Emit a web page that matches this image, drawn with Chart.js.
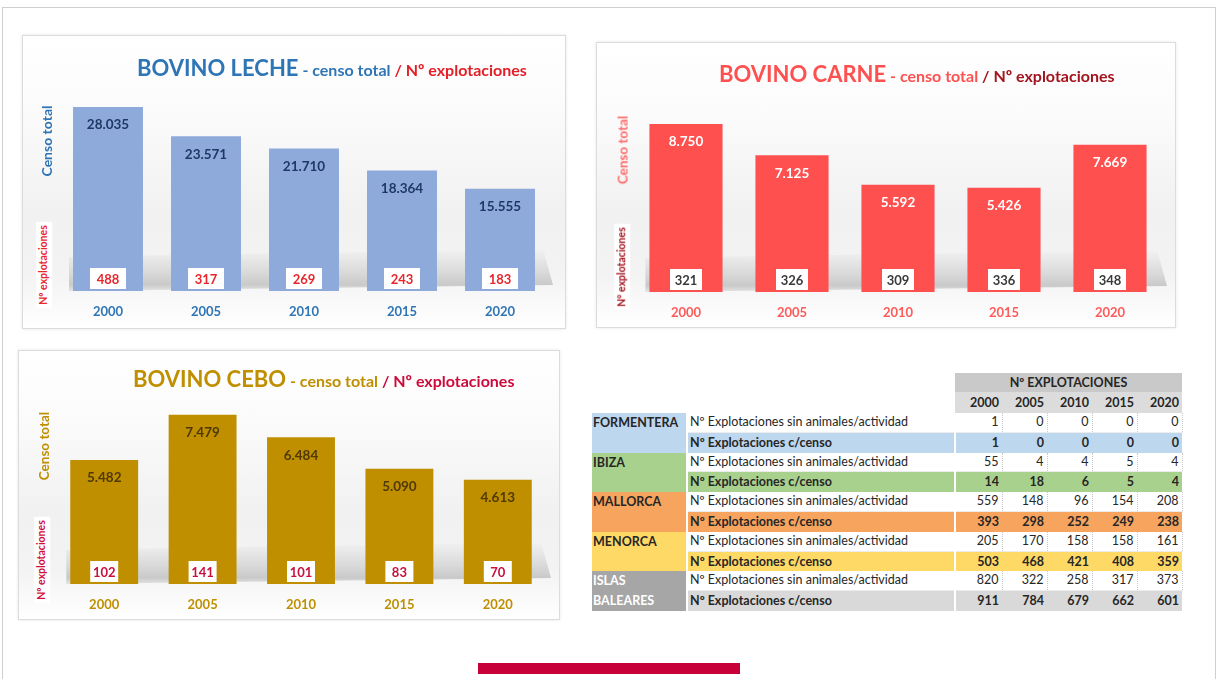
<!DOCTYPE html>
<html lang="es">
<head>
<meta charset="utf-8">
<script src="https://cdn.jsdelivr.net/npm/chart.js@4.4.1/dist/chart.umd.min.js"></script>
<style>
  html,body{margin:0;padding:0;background:#fff;}
  body{width:1218px;height:679px;position:relative;overflow:hidden;font-family:Lato,"Open Sans",sans-serif;}
  .frame{position:absolute;left:2px;top:7px;width:1214px;height:700px;border:1px solid #cfcfcf;box-sizing:border-box;}
  .panel{position:absolute;border:1px solid #dcdcdc;box-shadow:0 0 3px rgba(0,0,0,0.10);box-sizing:border-box;
    background:linear-gradient(to bottom,#ffffff 0%,#fbfbfb 25%,#f1f1f1 60%,#f3f3f3 82%,#ffffff 100%);}
  .cv{position:absolute;}
  .title{position:absolute;white-space:nowrap;font-weight:700;line-height:1;}
  .title .big{font-size:22px;}
  .title .sm{font-size:16px;}
  .rot{position:absolute;white-space:nowrap;font-weight:700;transform:translate(-50%,-50%) rotate(-90deg);line-height:1.1;}
  .rot.expl{background:#fff;padding:2px 3px;font-size:10.5px;}
  .bar{position:absolute;left:478px;top:663px;width:262px;height:11px;background:#c8003a;}
  table.t{position:absolute;left:592px;top:373px;border-collapse:collapse;table-layout:fixed;font-size:12.5px;color:#262626;}
  table.t td{padding:0;height:19.8px;line-height:19.8px;white-space:nowrap;overflow:hidden;}
  table.t tr.sin td{height:18.8px;line-height:18.8px;}
  table.t tr.sin td.isl{height:auto;line-height:19.8px;}
  table.t td.num{text-align:right;padding-right:3px;}
  table.t tr.sin td.num{border-right:1px dotted #c8c8c8;border-bottom:1px solid #ececec;}
  table.t tr.sin td.desc{border-bottom:1px solid #ececec;}
  table.t tr.cen td{font-weight:700;}
  table.t td.isl{font-weight:700;vertical-align:top;border-right:2px solid #fff;padding-left:1px;}
  table.t td.desc{padding-left:2px;border-right:2px solid #fff;}
  table.t tr.h1 td{height:19px;line-height:19px;}
  table.t tr.h1 td.hd{background:#c9c9c9;text-align:center;font-weight:700;}
  table.t tr.h2 td{height:21px;line-height:21px;}
  table.t tr.h2 td.yr{background:#dcdcdc;text-align:right;font-weight:700;padding-right:3px;}
</style>
</head>
<body>
<div class="frame"></div>

<div class="panel" style="left:22px;top:35px;width:544px;height:294px;"></div>
<div class="panel" style="left:596px;top:42px;width:580px;height:286px;"></div>
<div class="panel" style="left:18px;top:350px;width:542px;height:270px;"></div>

<canvas id="cLeche" class="cv" style="left:22px;top:35px;" width="544" height="294"></canvas>
<canvas id="cCarne" class="cv" style="left:596px;top:42px;" width="580" height="286"></canvas>
<canvas id="cCebo" class="cv" style="left:18px;top:350px;" width="542" height="270"></canvas>

<div class="title" style="left:137px;top:57px;color:#2e75b6;"><span class="big">BOVINO LECHE</span><span class="sm"> - censo total </span><span class="sm" style="color:#e41e26;"> / Nº explotaciones</span></div>
<div class="title" style="left:719px;top:63px;color:#ff5050;"><span class="big">BOVINO CARNE</span><span class="sm"> - censo total </span><span class="sm" style="color:#a3141e;"> / Nº explotaciones</span></div>
<div class="title" style="left:133px;top:368px;color:#bf8f00;"><span class="big">BOVINO CEBO</span><span class="sm"> - censo total </span><span class="sm" style="color:#cc0a3c;"> / Nº explotaciones</span></div>

<div class="rot" style="left:47px;top:141px;color:#2e75b6;font-size:14px;">Censo total</div>
<div class="rot expl" style="left:44px;top:265px;color:#e8262b;">Nº explotaciones</div>
<div class="rot" style="left:623px;top:150px;color:#ff6b6b;font-size:13.5px;">Censo total</div>
<div class="rot expl" style="left:622px;top:267px;color:#a3141e;">Nº explotaciones</div>
<div class="rot" style="left:44px;top:446px;color:#bf8f00;font-size:13.5px;">Censo total</div>
<div class="rot expl" style="left:42px;top:560px;color:#d0103a;">Nº explotaciones</div>

<table class="t" id="tbl"></table>
<div class="bar"></div>

<script>
// ---------- DATA ----------
const years = ['2000', '2005', '2010', '2015', '2020'];

const lecheCenso = [28035, 23571, 21710, 18364, 15555];
const lecheExpl  = [488, 317, 269, 243, 183];

const carneCenso = [8750, 7125, 5592, 5426, 7669];
const carneExpl  = [321, 326, 309, 336, 348];

const ceboCenso  = [5482, 7479, 6484, 5090, 4613];
const ceboExpl   = [102, 141, 101, 83, 70];

const islands = ['FORMENTERA', 'IBIZA', 'MALLORCA', 'MENORCA', 'ISLAS BALEARES'];
const formenteraSin = [1, 0, 0, 0, 0];
const formenteraCon = [1, 0, 0, 0, 0];
const ibizaSin      = [55, 4, 4, 5, 4];
const ibizaCon      = [14, 18, 6, 5, 4];
const mallorcaSin   = [559, 148, 96, 154, 208];
const mallorcaCon   = [393, 298, 252, 249, 238];
const menorcaSin    = [205, 170, 158, 158, 161];
const menorcaCon    = [503, 468, 421, 408, 359];
const balearesSin   = [820, 322, 258, 317, 373];
const balearesCon   = [911, 784, 679, 662, 601];

const rowSinLabel = 'Nº Explotaciones sin animales/actividad';
const rowConLabel = 'Nº Explotaciones c/censo';
const tableHeader = 'Nº EXPLOTACIONES';

// ---------- TABLE ----------
(function buildTable(){
  const styles = [
    {cell:'#bdd7ee', row:'#bdd7ee', txt:'#262626'},
    {cell:'#a9d18e', row:'#a9d18e', txt:'#262626'},
    {cell:'#f6a45e', row:'#f6a45e', txt:'#262626'},
    {cell:'#ffd966', row:'#ffd966', txt:'#262626'},
    {cell:'#a6a6a6', row:'#d9d9d9', txt:'#ffffff'}
  ];
  const sins = [formenteraSin, ibizaSin, mallorcaSin, menorcaSin, balearesSin];
  const cons = [formenteraCon, ibizaCon, mallorcaCon, menorcaCon, balearesCon];
  const widths = [95, 268, 47, 45, 45, 45, 45];
  let h = '<colgroup>' + widths.map(w => '<col style="width:' + w + 'px">').join('') + '</colgroup>';
  h += '<tr class="h1"><td></td><td></td><td class="hd" colspan="5">' + tableHeader + '</td></tr>';
  h += '<tr class="h2"><td></td><td></td>' + years.map(y => '<td class="yr">' + y + '</td>').join('') + '</tr>';
  islands.forEach((isl, i) => {
    const s = styles[i];
    const name = isl === 'ISLAS BALEARES' ? 'ISLAS<br>BALEARES' : isl;
    h += '<tr class="sin"><td class="isl" rowspan="2" style="background:' + s.cell + ';color:' + s.txt + ';">' + name + '</td>' +
         '<td class="desc">' + rowSinLabel + '</td>' +
         sins[i].map(v => '<td class="num">' + v + '</td>').join('') + '</tr>';
    h += '<tr class="cen"><td class="desc" style="background:' + s.row + ';">' + rowConLabel + '</td>' +
         cons[i].map(v => '<td class="num" style="background:' + s.row + ';">' + v + '</td>').join('') + '</tr>';
  });
  document.getElementById('tbl').innerHTML = h;
})();

// ---------- CHARTS ----------
function fmt(v){ return String(v).replace(/\B(?=(\d{3})+(?!\d))/g, '.'); }

const barDecor = {
  id: 'barDecor',
  beforeDatasetsDraw(chart){
    const {ctx, chartArea:a} = chart;
    const meta = chart.getDatasetMeta(0);
    const first = meta.data[0];
    const x0 = first.x - first.width/2 - 4;
    const x1 = a.right + 4;
    const top = a.bottom - 42;
    ctx.save();
    const g = ctx.createLinearGradient(0, top, 0, a.bottom);
    g.addColorStop(0, 'rgba(140,140,140,0)');
    g.addColorStop(0.55, 'rgba(140,140,140,0.24)');
    g.addColorStop(0.85, 'rgba(130,130,130,0.38)');
    g.addColorStop(1, 'rgba(150,150,150,0.2)');
    ctx.fillStyle = g;
    ctx.beginPath();
    ctx.moveTo(x0, top + 8);
    ctx.lineTo(x1 - 10, top);
    ctx.lineTo(x1, a.bottom - 6);
    ctx.lineTo(x0, a.bottom);
    ctx.closePath();
    ctx.fill();
    ctx.restore();
  },
  afterDatasetsDraw(chart){
    const o = chart.options.plugins.barDecor;
    const {ctx} = chart;
    const meta = chart.getDatasetMeta(0);
    const vals = chart.data.datasets[0].data;
    ctx.save();
    ctx.textAlign = 'center';
    ctx.textBaseline = 'middle';
    meta.data.forEach((bar, i) => {
      ctx.font = '700 13.5px Lato, "Open Sans", sans-serif';
      ctx.fillStyle = o.valueColor;
      ctx.fillText(fmt(vals[i]), bar.x, bar.y + 18);
      const w = o.boxW, hh = 21;
      const by = bar.base - hh - 2;
      ctx.fillStyle = '#ffffff';
      ctx.fillRect(bar.x - w/2, by, w, hh);
      ctx.font = '700 13px Lato, "Open Sans", sans-serif';
      ctx.fillStyle = o.countColor;
      ctx.fillText(String(o.counts[i]), bar.x, by + hh/2 + 1);
    });
    ctx.restore();
  }
};

function makeChart(id, censo, expl, opt){
  new Chart(document.getElementById(id), {
    type: 'bar',
    data: {
      labels: years,
      datasets: [{
        data: censo,
        backgroundColor: opt.color,
        borderWidth: 0,
        barPercentage: opt.barPct,
        categoryPercentage: 1
      }]
    },
    options: {
      responsive: false,
      animation: false,
      layout: { padding: { left: opt.pl, right: opt.pr, top: opt.pt, bottom: 0 } },
      plugins: {
        legend: { display: false },
        tooltip: { enabled: false },
        title: { display: false },
        barDecor: { valueColor: opt.valueColor, countColor: opt.countColor, counts: expl, boxW: opt.boxW }
      },
      scales: {
        x: {
          grid: { display: false, drawTicks: false },
          border: { display: false },
          ticks: { color: opt.yearColor, padding: 13, font: { family: 'Lato', weight: '700', size: 13 } },
          afterFit(scale){ scale.height = opt.xh; }
        },
        y: { display: false, min: 0, max: opt.max }
      }
    },
    plugins: [barDecor]
  });
}

makeChart('cLeche', lecheCenso, lecheExpl, {
  color: '#8eaadb', barPct: 0.714, pl: 37, pr: 17, pt: 59, xh: 38, max: 30000,
  valueColor: '#1f3864', countColor: '#e8262b', yearColor: '#2e75b6', boxW: 36
});
makeChart('cCarne', carneCenso, carneExpl, {
  color: '#ff5050', barPct: 0.69, pl: 37, pr: 13, pt: 58, xh: 36, max: 10000,
  valueColor: '#ffffff', countColor: '#3a3a3a', yearColor: '#ff5a5a', boxW: 32
});
makeChart('cCebo', ceboCenso, ceboExpl, {
  color: '#bf8f00', barPct: 0.69, pl: 37, pr: 13, pt: 53, xh: 36, max: 8000,
  valueColor: '#4f3a05', countColor: '#c8103c', yearColor: '#bf8f00', boxW: 28
});
</script>
</body>
</html>
